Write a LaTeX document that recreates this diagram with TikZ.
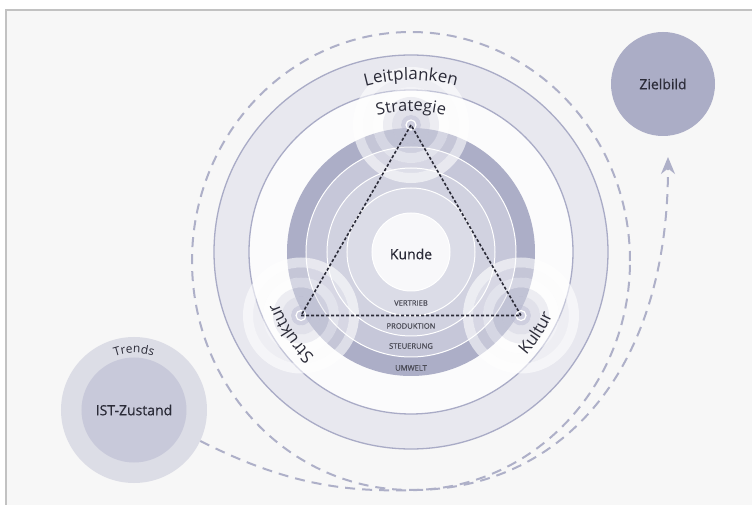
\documentclass[tikz,border=0pt]{standalone}
\usepackage{fontspec}
\setmainfont{Open Sans}
\newfontfamily\heavysans[FakeBold=0.5]{Open Sans}
\usetikzlibrary{decorations.text,arrows.meta}

\definecolor{panelbg}{HTML}{F7F7F7}
\definecolor{framegray}{HTML}{C2C2C2}
\definecolor{pathlav}{HTML}{AEB0C8}
\definecolor{ringband}{HTML}{E8E8EF}
\definecolor{ringedge}{HTML}{A9ABC6}
\definecolor{innerbg}{HTML}{FBFBFC}
\definecolor{cUmwelt}{HTML}{ACAEC7}
\definecolor{cSteuer}{HTML}{C6C7D9}
\definecolor{cProd}{HTML}{D1D2E0}
\definecolor{cVertrieb}{HTML}{DBDCE7}
\definecolor{cKunde}{HTML}{F8F8FA}
\definecolor{ripB}{HTML}{DCDDE7}
\definecolor{ripC}{HTML}{D0D1DF}
\definecolor{ripD}{HTML}{C4C5D8}
\definecolor{istouter}{HTML}{DCDDE6}
\definecolor{istinner}{HTML}{C8C9DA}
\definecolor{zielfill}{HTML}{ABADC6}
\definecolor{inkdark}{HTML}{2B2B38}

\tikzset{
  flowpath/.style={draw=pathlav, line width=2pt, dash pattern=on 10pt off 7pt},
  triline/.style={draw=inkdark, line width=1.6pt, dash pattern=on 3pt off 2pt},
  bandlabel/.style={font=\heavysans\fontsize{7.6}{8}\selectfont, text=inkdark!85, inner sep=1pt},
  bigcircle/.style={circle, draw=none, inner sep=0pt, text=inkdark},
}

% concentric ripple rings around a triangle corner
\newcommand\ripplering[1]{%
  \begin{scope}[shift={(#1)}]
    \fill[white, fill opacity=.6, even odd rule] (0,0) circle (58) (0,0) circle (48);
    \fill[white, fill opacity=.3, even odd rule] (0,0) circle (48) (0,0) circle (38);
    \fill[white, fill opacity=.5, even odd rule] (0,0) circle (38) (0,0) circle (28);
    \fill[ripB, fill opacity=.45, even odd rule] (0,0) circle (28) (0,0) circle (19);
    \fill[ripC, fill opacity=.6, even odd rule] (0,0) circle (19) (0,0) circle (10);
    \fill[ripD, fill opacity=.8] (0,0) circle (10);
    \draw[white, line width=1.2pt] (0,0) circle (5);
  \end{scope}}

\begin{document}
\begin{tikzpicture}[x=1pt,y=1pt]
  \useasboundingbox (-411,-253) rectangle (341,252);
  \fill[white] (-411,-253) rectangle (341,252);
  \fill[panelbg] (-405,-253) rectangle (341,242);
  \draw[framegray, line width=1.5pt] (-405,-253) -- (-405,242) -- (341,242);

  % path circling the model
  \draw[flowpath] (0,-9) ellipse [x radius=219, y radius=229];

  % guard-rail ring
  \fill[ringband, even odd rule] (0,0) circle (197) (0,0) circle (162);
  \fill[innerbg] (0,0) circle (162);
  \draw[ringedge, line width=1.3pt] (0,0) circle (197) (0,0) circle (162);

  % company layers
  \fill[cUmwelt] (0,0) circle (124);
  \filldraw[fill=cSteuer, draw=white, line width=1pt] (0,0) circle (105);
  \filldraw[fill=cProd, draw=white, line width=1pt] (0,0) circle (84);
  \filldraw[fill=cVertrieb, draw=white, line width=1pt] (0,0) circle (64);
  \filldraw[fill=cKunde, draw=white, line width=1pt] (0,0) circle (39);

  % triangle corners
  \coordinate (strat) at (90:127);
  \coordinate (strukt) at (210:127);
  \coordinate (kult) at (330:127);
  \ripplering{strat}
  \ripplering{strukt}
  \ripplering{kult}

  \draw[triline] (strat) -- (strukt) -- (kult) -- cycle;

  % labels
  \node[font=\heavysans\fontsize{14}{16}\selectfont, text=inkdark] (kunde) at (0,-2) {Kunde};
  \node[bandlabel] (vertrieb) at (0,-51) {VERTRIEB};
  \node[bandlabel] (produktion) at (0,-74) {PRODUKTION};
  \node[bandlabel] (steuerung) at (0,-94) {STEUERUNG};
  \node[bandlabel] (umwelt) at (0,-116) {UMWELT};

  \path[decorate, decoration={text along path, text align=center,
      text={|\fontsize{17}{17}\selectfont\color{inkdark}|Leitplanken}}]
    (150:172) arc[start angle=150, end angle=30, radius=172];
  \path[decorate, decoration={text along path, text align=center,
      text={|\fontsize{16.5}{16}\selectfont\color{inkdark}|Strategie}}]
    (140:141) arc[start angle=140, end angle=40, radius=141];
  \path[decorate, decoration={text along path, text align=center,
      text={|\fontsize{17}{17}\selectfont\color{inkdark}|Struktur}}]
    (250:142) arc[start angle=250, end angle=178, radius=142];
  \path[decorate, decoration={text along path, text align=center,
      text={|\fontsize{17}{17}\selectfont\color{inkdark}|Kultur}}]
    (298:155) arc[start angle=298, end angle=356, radius=155];

  % current state
  \node[bigcircle, fill=istouter, minimum size=146pt] (istout) at (-277,-158) {};
  \node[bigcircle, fill=istinner, minimum size=105pt,
        font=\heavysans\fontsize{14}{16}\selectfont] (ist) at (-277,-158) {IST-Zustand};
  \path[decorate, decoration={text along path, text align=center,
      text={|\fontsize{12}{12}\selectfont\color{inkdark}|Trends}}]
    ([shift={(130:57)}]istout.center) arc[start angle=130, end angle=50, radius=57];

  % target picture
  \node[bigcircle, fill=zielfill, minimum size=104pt,
        font=\heavysans\fontsize{14}{16}\selectfont] (ziel) at (252,168) {Zielbild};
  \coordinate (zieltip) at (257,95);

  \draw[flowpath, -{Stealth[length=17pt, width=14pt]}]
    (istout.-25) .. controls (-120,-235) and (-60,-240) .. (6,-238)
    .. controls (150,-235) and (257,-120) .. (zieltip);
\end{tikzpicture}
\end{document}
